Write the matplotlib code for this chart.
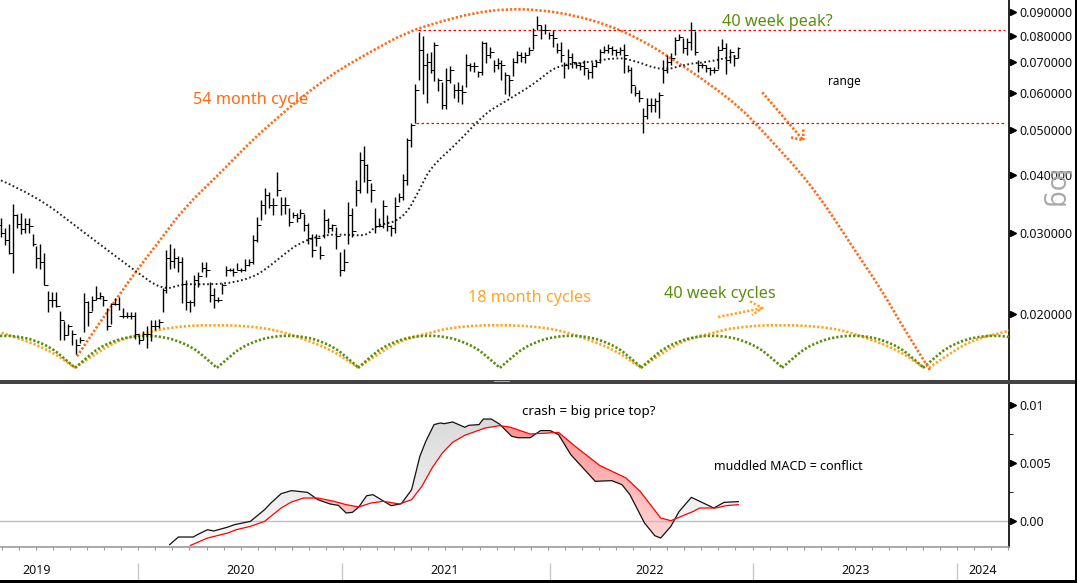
import numpy as np
import matplotlib
matplotlib.use('Agg')
import matplotlib.pyplot as plt
from matplotlib.patches import PathPatch, Rectangle
from matplotlib.path import Path
from matplotlib.colors import LinearSegmentedColormap

plt.rcParams['font.family'] = ['Noto Sans', 'DejaVu Sans']

# weekly bars, x axis is the week number
highs = [.0322,.0307,.0313,.0346,.0329,.0330,.0322,.0322,.0298,.0281,.0283,.0271,.0224,.0223,.0223,.0203,.0193,.0190,.0185,.0177,
         .0178,.0222,.0213,.0219,.0230,.0223,.0219,.0206,.0211,.0217,.0218,.0206,.0202,.0202,.0202,.0180,.0184,.0188,.0194,.0194,
         .0195,.0228,.0275,.0283,.0278,.0267,.0265,.0237,.0214,
         .0243,.0247,.0259,.0259,.0235,.0228,.0218,.0233,.0254,.0252,.0252,.0258,.0252,.0263,.0263,.0297,.0324,.0352,.0374,.0367,
         .0356,.0405,.0358,.0358,.0339,.0332,.0330,.0337,.0329,.0314,.0298,.0298,.0281,.0337,.0322,.0313,.0308,.0272,.0276,.0349,
         .0339,.0389,.0447,.0461,.0423,.0384,
         .0339,.0322,.0352,.0327,.0311,.0358,.0365,.0401,.0480,.0517,.0628,.0814,.0798,.0733,.0736,.0774,.0647,.0634,.0680,.0686,
         .0628,.0634,.0625,.0729,.0697,.0700,.0670,.0778,.0774,.0755,.0707,.0714,.0710,.0666,.0657,.0714,.0740,.0736,.0736,.0755,
         .0832,.0882,.0845,.0849,.0814,.0822,
         .0770,.0774,.0700,.0747,.0733,.0700,.0700,.0707,.0676,.0703,.0710,.0747,.0758,.0766,.0758,.0747,.0755,.0766,.0690,.0683,
         .0621,.0609,.0557,.0585,.0585,.0585,.0603,.0707,.0725,.0733,.0794,.0806,.0790,.0790,.0857,.0818,.0707,.0697,.0690,.0683,
         .0683,.0758,.0786,.0770,.0747,.0725,.0755]
lows = [.0293,.0282,.0270,.0245,.0307,.0298,.0300,.0300,.0280,.0252,.0250,.0231,.0202,.0207,.0207,.0176,.0176,.0180,.0171,.0164,
        .0173,.0183,.0188,.0203,.0214,.0215,.0208,.0185,.0190,.0209,.0204,.0196,.0196,.0195,.0177,.0172,.0176,.0169,.0175,.0185,
        .0187,.0202,.0222,.0250,.0251,.0247,.0211,.0204,.0202,
        .0208,.0229,.0247,.0240,.0212,.0206,.0212,.0221,.0242,.0248,.0242,.0249,.0247,.0248,.0254,.0256,.0286,.0319,.0329,.0339,
        .0328,.0360,.0327,.0329,.0310,.0322,.0316,.0322,.0303,.0283,.0265,.0281,.0263,.0292,.0300,.0302,.0277,.0242,.0248,.0283,
        .0293,.0342,.0365,.0386,.0365,.0349,
        .0300,.0308,.0307,.0303,.0295,.0300,.0349,.0352,.0380,.0459,.0517,.0640,.0597,.0571,.0663,.0637,.0606,.0554,.0554,.0631,
        .0585,.0576,.0568,.0618,.0670,.0666,.0650,.0657,.0697,.0714,.0666,.0676,.0640,.0597,.0591,.0653,.0697,.0700,.0697,.0725,
        .0747,.0822,.0786,.0806,.0786,.0755,
        .0733,.0703,.0647,.0676,.0680,.0680,.0673,.0657,.0643,.0647,.0683,.0697,.0733,.0733,.0725,.0721,.0725,.0663,.0666,.0600,
        .0591,.0574,.0492,.0527,.0546,.0546,.0532,.0631,.0663,.0690,.0725,.0782,.0733,.0725,.0743,.0725,.0666,.0680,.0666,.0657,
        .0663,.0676,.0743,.0660,.0697,.0686,.0714]
closes = [.0300,.0289,.0271,.0327,.0313,.0305,.0313,.0310,.0283,.0264,.0259,.0231,.0214,.0214,.0208,.0194,.0180,.0188,.0181,.0171,
          .0176,.0212,.0202,.0214,.0217,.0219,.0214,.0188,.0210,.0210,.0198,.0198,.0198,.0198,.0181,.0176,.0181,.0181,.0188,.0188,
          .0192,.0225,.0264,.0261,.0264,.0259,.0232,.0212,.0212,
          .0237,.0242,.0252,.0249,.0220,.0214,.0214,.0231,.0249,.0249,.0247,.0249,.0249,.0255,.0259,.0289,.0311,.0344,.0361,.0344,
          .0344,.0370,.0344,.0344,.0316,.0327,.0322,.0330,.0311,.0292,.0275,.0292,.0268,.0319,.0307,.0311,.0295,.0249,.0259,.0327,
          .0303,.0370,.0430,.0419,.0389,.0370,
          .0310,.0310,.0342,.0310,.0307,.0342,.0358,.0389,.0475,.0512,.0609,.0743,.0690,.0700,.0673,.0762,.0640,.0565,.0640,.0673,
          .0609,.0609,.0603,.0690,.0686,.0686,.0666,.0770,.0725,.0736,.0690,.0697,.0690,.0657,.0640,.0700,.0725,.0718,.0725,.0743,
          .0802,.0845,.0822,.0822,.0802,.0790,
          .0743,.0725,.0690,.0718,.0700,.0690,.0686,.0680,.0666,.0686,.0700,.0736,.0743,.0751,.0743,.0736,.0743,.0725,.0673,.0625,
          .0600,.0585,.0537,.0565,.0565,.0579,.0594,.0673,.0700,.0714,.0782,.0794,.0751,.0774,.0822,.0736,.0690,.0690,.0680,.0673,
          .0673,.0743,.0751,.0707,.0736,.0714,.0751]
opens = [.0312,.0300,.0289,.0271,.0327,.0313,.0305,.0313,.0310,.0283,.0264,.0259,.0231,.0214,.0214,.0208,.0194,.0180,.0188,.0181,
         .0171,.0176,.0212,.0202,.0214,.0217,.0219,.0214,.0188,.0210,.0210,.0198,.0198,.0198,.0198,.0181,.0176,.0181,.0181,.0188,
         .0188,.0192,.0225,.0264,.0261,.0264,.0259,.0232,.0212,
         .0212,.0237,.0242,.0252,.0249,.0220,.0214,.0214,.0231,.0249,.0249,.0247,.0249,.0249,.0255,.0259,.0289,.0311,.0344,.0361,
         .0344,.0344,.0370,.0344,.0344,.0316,.0327,.0322,.0330,.0311,.0292,.0275,.0292,.0268,.0319,.0307,.0311,.0295,.0249,.0259,
         .0327,.0303,.0370,.0430,.0419,.0389,
         .0370,.0310,.0310,.0342,.0310,.0307,.0342,.0358,.0389,.0475,.0512,.0609,.0743,.0690,.0700,.0673,.0762,.0640,.0565,.0640,
         .0673,.0609,.0609,.0603,.0690,.0686,.0686,.0666,.0770,.0725,.0736,.0690,.0697,.0690,.0657,.0640,.0700,.0725,.0718,.0725,
         .0743,.0802,.0845,.0822,.0822,.0802,
         .0790,.0743,.0725,.0690,.0718,.0700,.0690,.0686,.0680,.0666,.0686,.0700,.0736,.0743,.0751,.0743,.0736,.0743,.0725,.0673,
         .0625,.0600,.0585,.0537,.0565,.0565,.0579,.0594,.0673,.0700,.0714,.0782,.0794,.0751,.0774,.0822,.0736,.0690,.0690,.0680,
         .0673,.0673,.0743,.0751,.0707,.0736,.0714]

ma_weeks = [0, 9, 20, 34, 41, 46, 48, 57, 64, 68, 72, 76, 82, 88, 93, 95, 102, 106.5, 109, 116, 122.5, 127, 130, 136, 141, 149, 156, 160, 168, 174, 179, 187]
ma_values = [.0389, .0360, .0305, .0248, .0225, .0232, .0232, .0232, .0240, .0253, .0270, .0286, .0297, .0297, .0295, .0311, .0319, .0375, .0415, .0470, .0540, .0570, .0590, .0635, .0690, .0700, .0717, .0710, .0670, .0695, .0700, .0725]

cycle54_weeks = [19.3, 25.1, 30.2, 34.5, 40.4, 46.7, 55.1, 63.7, 69.5, 75.9, 81, 86, 94.4, 103, 111.4, 119.8, 128.4, 136.8, 145.2, 153.8,
                 162.2, 170.6, 179.2, 187.6, 192.6, 197.7, 202.8, 207.9, 213, 218, 223.1, 228.2, 232, 235.8]
cycle54_values = [.0162, .0192, .0221, .0249, .0289, .0341, .0399, .0475, .0525, .0585, .0631, .0676, .0743, .0814, .0857, .0895, .0914, .0909, .0886, .0845,
                  .0786, .0710, .0634, .0559, .0504, .0452, .0405, .0356, .0307, .0264, .0228, .0192, .0170, .0151]

# one arc of each short cycle, weeks after its low
cycle18_lows = [-53, 18.8, 90.6, 162.4, 235.5]
cycle18_offsets = [0, 6.3, 12.2, 18.3, 23.3, 35, 48.7, 57, 65.4, 71.8]
cycle18_values = [.0153, .0167, .0177, .0182, .0187, .0190, .0187, .0178, .0167, .0153]
cycle40_lows = [-17.2, 18.8, 54.8, 90.6, 126.6, 162.4, 198.2, 234]
cycle40_offsets = [0, 3, 6, 10, 13, 18, 23, 26, 30, 33, 36]
cycle40_values = [.0153, .0161, .0169, .0175, .0178, .0180, .0178, .0175, .0169, .0161, .0153]

range_top = .0822
range_bottom = .0517

macd_weeks = [42.8, 45, 48.8, 49.8, 52.4, 54, 57.6, 59.2, 63.3, 66.9, 68.5, 71.1, 73.7, 77.8, 80.4, 83.5, 85.6, 87.6, 89.2, 90.8, 92.8, 94.4, 99, 101.6,
              104.2, 106.3, 107.8, 109.9, 111.5, 112.5, 114.6, 117.7, 118.7, 121.3, 122.4, 124.4, 126.5, 129.6, 131.2, 134.3, 136.9, 139.4, 141.5,
              144.6, 147.7, 150.8, 155, 157.6, 159.6, 163.3, 165.9, 167.4, 170, 172.1, 175.2, 180.9, 183.5, 187.1]
macd_values = [-.00204, -.00138, -.00138, -.00118, -.00075, -.00086, -.00052, -.00032, -.00003, .00098, .00155, .00236, .00262, .00247, .00184, .00147, .00135, .00069, .00075, .00121, .00218, .00227, .00132, .00149,
               .00270, .00558, .00687, .00831, .00845, .00839, .00854, .00808, .00825, .00831, .00879, .00879, .00836, .00730, .00718, .00718, .00779, .00779, .00744,
               .00572, .00457, .00342, .00348, .00313, .00227, -.00017, -.00126, -.00147, -.00046, .00083, .00204, .00112, .00161, .00167]
signal_weeks = [48.1, 52.4, 57.6, 59.7, 63.3, 66.9, 71.1, 73.7, 76.8, 80.4, 84.5, 87.6, 90.8, 93.9, 97, 101.1, 104.2, 106.8, 109.4, 112, 114.6, 117.7, 122.9,
                126.5, 129.1, 134.3, 141.5, 145.7, 151.9, 158.6, 162.2, 167.4, 170, 175.7, 177.3, 181.4, 184, 187.1]
signal_values = [-.00210, -.00147, -.00103, -.00075, -.00046, -.00003, .00112, .00164, .00198, .00198, .00170, .00141, .00121, .00155, .00170, .00147, .00184, .00299, .00457, .00586, .00678, .00739, .00802,
                 .00822, .00810, .00750, .00764, .00644, .00480, .00371, .00256, .00026, .00003, .00083, .00112, .00112, .00132, .00141]

price_ticks = [.09, .08, .07, .06, .05, .04, .03, .02]
price_labels = ['0.090000', '0.080000', '0.070000', '0.060000', '0.050000', '0.040000', '0.030000', '0.020000']
macd_ticks = [.01, .005, 0]
macd_labels = ['0.01', '0.005', '0.00']
year_starts = [34.8, 86.5, 139.2, 190.9, 242.7]
year_centers = [9, 60.7, 112.7, 164.7, 216.8, 249.2]
year_labels = ['2019', '2020', '2021', '2022', '2023', '2024']

RED_ORANGE = '#FF6A13'
ORANGE = '#FFA51F'
GREEN = '#5A8E0A'
W, H = 1077, 583
XLIM = (-0.25, 255.8)

fig = plt.figure(figsize=(W / 100, H / 100), dpi=100, facecolor='white')
ax = fig.add_axes([0, 1 - 380 / H, 1009 / W, 380 / H])
ax2 = fig.add_axes([0, 1 - 547 / H, 1009 / W, 163 / H])

ARC_STYLE = dict(color=None, lw=1.9, dash=(0.85, 0.75))
MA_STYLE = dict(color='#222222', lw=1.4, dash=(0.9, 1.3))


def dotted(x, y, color, lw=1.9, dash=(0.85, 0.75), zorder=3):
    ax.plot(x, y, color=color, lw=lw, linestyle=(0, dash), dash_capstyle='butt', zorder=zorder)


def dotted_curve(x, y, color, lw=1.9, dash=(0.85, 0.75), zorder=3):
    # quadratic curve through the read points, so the arcs have no corners
    x = np.asarray(x, dtype=float)
    y = np.asarray(y, dtype=float)
    mid_x = (x[1:] + x[:-1]) / 2
    mid_y = np.sqrt(y[1:] * y[:-1])
    verts = [(x[0], y[0])]
    codes = [Path.MOVETO]
    for i in range(1, len(x) - 1):
        verts += [(x[i], y[i]), (mid_x[i], mid_y[i])]
        codes += [Path.CURVE3, Path.CURVE3]
    verts.append((x[-1], y[-1]))
    codes.append(Path.LINETO)
    ax.add_patch(PathPatch(Path(verts, codes), fill=False, edgecolor=color, lw=lw,
                           linestyle=(0, dash), capstyle='butt', zorder=zorder))


def right_axis(axis, ticks, labels):
    axis.yaxis.tick_right()
    axis.set_yticks(ticks, labels)
    axis.tick_params(axis='y', which='major', length=0, pad=7.5, labelsize=9, colors='#111111')
    axis.plot([1.0035] * len(ticks), ticks, marker='>', ms=5, color='black', ls='none',
              transform=axis.get_yaxis_transform(), clip_on=False)
    for side in ['top', 'left', 'bottom']:
        axis.spines[side].set_visible(False)
    axis.spines['right'].set_color('black')
    axis.spines['right'].set_linewidth(1.2)
    axis.set_xticks([])


# price panel
ax.set_yscale('log')
weeks = np.arange(len(highs))
ax.vlines(weeks, lows, highs, color='black', lw=1.0, zorder=5)
ax.hlines(opens, weeks - 0.65, weeks, color='black', lw=0.7, zorder=5)
ax.hlines(closes, weeks, weeks + 0.65, color='black', lw=0.7, zorder=5)

dotted_curve(ma_weeks, ma_values, '#222222', lw=1.4, dash=(0.9, 1.3), zorder=4)
for low in cycle18_lows:
    dotted_curve(low + np.array(cycle18_offsets), cycle18_values, ORANGE)
for low in cycle40_lows:
    dotted_curve(low + np.array(cycle40_offsets), cycle40_values, GREEN)
dotted_curve(cycle54_weeks, cycle54_values, RED_ORANGE)

ax.hlines([range_top], 105.8, 254.8, color='red', lw=0.9, linestyles=(0, (2, 2)), zorder=2)
ax.hlines([range_bottom], 105.2, 254.8, color='red', lw=0.9, linestyles=(0, (2, 2)), zorder=2)

# hand drawn arrows
dotted([193.2, 203.6], [.0603, .0475], RED_ORANGE)
dotted([200.5, 203.6, 203.6], [.0482, .0475, .0504], RED_ORANGE)
dotted([182, 193.2], [.0197, .0206], ORANGE)
dotted([190.1, 193.2, 190.6], [.0213, .0206, .0199], ORANGE)

ax.set_xlim(*XLIM)
ax.set_ylim(.0144, .0955)
ax.minorticks_off()
right_axis(ax, price_ticks, price_labels)
ax.tick_params(axis='y', which='minor', length=0, labelright=False)

# MACD panel
grid = np.linspace(48.1, 187.1, 1400)
macd_line = np.interp(grid, macd_weeks, macd_values)
signal_line = np.interp(grid, signal_weeks, signal_values)
gray_cmap = LinearSegmentedColormap.from_list('g', ['#F8F8F8', '#DADADA'])
red_cmap = LinearSegmentedColormap.from_list('r', ['#FFD6D6', '#FF8F8F'])
gradient = np.linspace(1, 0, 256).reshape(-1, 1)
for where, cmap in [(macd_line >= signal_line, gray_cmap), (macd_line < signal_line, red_cmap)]:
    shade = ax2.fill_between(grid, macd_line, signal_line, where=where, color='none', lw=0)
    im = ax2.imshow(gradient, extent=[48, 188, -.0015, .0088], aspect='auto', cmap=cmap, zorder=1)
    im.set_clip_path(Path.make_compound_path(*shade.get_paths()), ax2.transData)

ax2.axhline(0, color='#BDBDBD', lw=1, zorder=1)
ax2.plot(macd_weeks, macd_values, color='#111111', lw=0.9, zorder=3)
ax2.plot(signal_weeks, signal_values, color='red', lw=0.9, zorder=4)
ax2.set_xlim(*XLIM)
ax2.set_ylim(-.00224, .01181)
right_axis(ax2, macd_ticks, macd_labels)
ax2.set_yticks([.0025, .0075], minor=True)
ax2.tick_params(axis='y', which='minor', right=True, length=3, color='black')
ax2.spines['bottom'].set_visible(True)
ax2.spines['bottom'].set_color('#999999')
ax2.spines['bottom'].set_linewidth(1.2)
ax2.set_xticks(np.arange(0.2, 256, 4.33))
ax2.set_xticklabels([])
ax2.tick_params(axis='x', length=2.5, color='#999999', width=0.8)

xaxis_tf = ax2.get_xaxis_transform()
ax2.vlines(year_starts, -0.098, -0.202, color='#C8C8C8', lw=1, transform=xaxis_tf, clip_on=False)
for pos, label_text in zip(year_centers, year_labels):
    ax2.text(pos, -0.146, label_text, transform=xaxis_tf, ha='center', va='center', fontsize=9, color='#111111')


def label(x, y, text, color='black', size=9):
    fig.text(x / W, 1 - y / H, text, color=color, fontsize=size, va='center', ha='left')


label(193, 100.5, '54 month cycle', RED_ORANGE, 11.7)
label(468, 297.5, '18 month cycles', ORANGE, 11.7)
label(664, 294.5, '40 week cycles', GREEN, 11.7)
label(722, 21.5, '40 week peak?', GREEN, 11.7)
label(828, 81, 'range', 'black', 8.5)
label(522, 412, 'crash = big price top?', 'black', 9.6)
label(714, 466, 'muddled MACD = conflict', 'black', 9.0)
fig.text(1055 / W, 1 - 190 / H, 'log', color='#AAAAAA', fontsize=19.5, rotation=-90, ha='center', va='center')

# window chrome
for x0, y0, w, h, color in [(0, 380, 1075, 3.5, '#444444'), (494, 381, 16, 1, '#AAAAAA'),
                            (1075, 0, 2, 583, 'black'), (0, 580, 1077, 3, 'black')]:
    fig.add_artist(Rectangle((x0 / W, 1 - (y0 + h) / H), w / W, h / H, transform=fig.transFigure,
                             facecolor=color, edgecolor='none'))

fig.savefig('out.png', dpi=100)
